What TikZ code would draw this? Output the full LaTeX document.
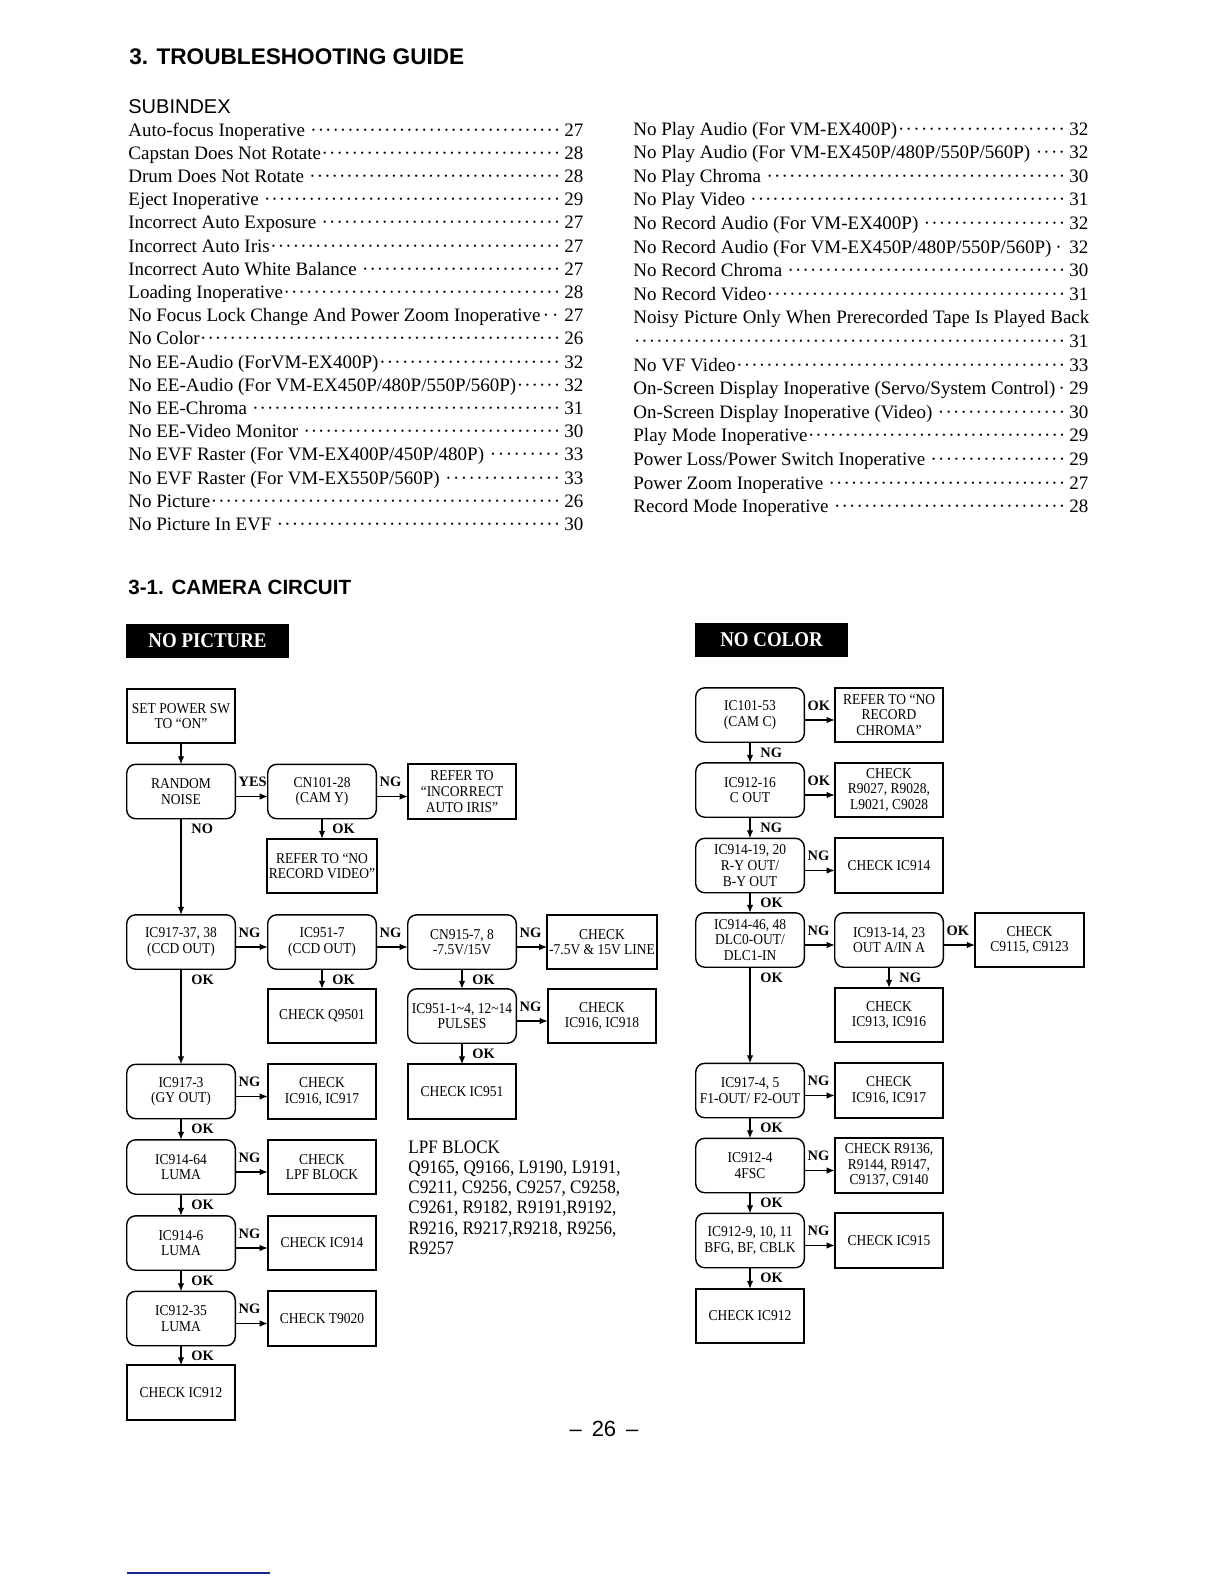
\documentclass[tikz,border=0pt]{standalone}
\usepackage{fontspec}
\setmainfont{Liberation Serif}
\setsansfont{Liberation Sans}
\newfontfamily\cnd{Liberation Serif}[FakeStretch=0.9]
\usetikzlibrary{arrows.meta,calc}
\definecolor{navyline}{RGB}{25,35,140}
\tikzset{
  box/.style={draw, line width=0.9pt, minimum width=54.3pt, minimum height=27.2pt,
    inner sep=1pt, outer sep=0pt, align=center, font=\cnd\fontsize{7.5}{7.8}\selectfont},
  rbox/.style={box, rounded corners=4.5pt, line width=0.7pt},
  arr/.style={-{Latex[length=4pt,width=3.2pt]}, line width=0.55pt},
  lbl/.style={inner sep=0pt, font=\fontsize{7.2}{8}\selectfont\bfseries},
  idxs/.style={anchor=base west, inner sep=0pt, font=\fontsize{9.5}{11}\selectfont},
  blk/.style={fill=black, text=white, minimum height=17pt, inner sep=0pt,
    font=\cnd\bfseries\fontsize{10.5}{12}\selectfont},
  ttl/.style={anchor=base west, inner sep=0pt, font=\sffamily\bfseries\fontsize{11.3}{13}\selectfont}
}
\newcommand\dotlead{\xleaders\hbox to 3.67pt{\hss·\hss}\hfill}
\newcommand\idx[5]{\node[idxs] (#1) at (#2,#3) {\hbox to 227.5pt{#4\dotlead\kern1.8pt #5}};}
\newcommand\hcon[3]{\draw[arr] ($(#1.east)+(0,5)$) -- ($(#2.west)+(0,5)$);
  \node[lbl,anchor=base west] (h-#1-#2) at ($(#1.east)+(3,-5)$) {#3};}
\newcommand\vcon[3]{\draw[arr] (#1.south) -- (#2.north);
  \node[lbl,anchor=base west] (v-#1-#2) at ($(#1.south)+(10,15)$) {#3};}
\begin{document}
\begin{tikzpicture}[x=0.5pt,y=-0.5pt]
\useasboundingbox (0,0) rectangle (1224,1584);
\fill[white] (0,0) rectangle (1224,1584);

% ---------- headings ----------
\node[ttl] (title) at (129,65) {3. TROUBLESHOOTING GUIDE};
\node[anchor=base west, inner sep=0pt, font=\sffamily\fontsize{10}{12}\selectfont] (subidx) at (128,113) {SUBINDEX};

% ---------- subindex left ----------
\idx{L0}{128}{136}{Auto-focus Inoperative }{27}
\idx{L1}{128}{159.2}{Capstan Does Not Rotate}{28}
\idx{L2}{128}{182.4}{Drum Does Not Rotate }{28}
\idx{L3}{128}{205.6}{Eject Inoperative }{29}
\idx{L4}{128}{228.8}{Incorrect Auto Exposure }{27}
\idx{L5}{128}{252}{Incorrect Auto Iris}{27}
\idx{L6}{128}{275.2}{Incorrect Auto White Balance }{27}
\idx{L7}{128}{298.4}{Loading Inoperative}{28}
\idx{L8}{128}{321.6}{No Focus Lock Change And Power Zoom Inoperative}{27}
\idx{L9}{128}{344.8}{No Color}{26}
\idx{L10}{128}{368}{No EE-Audio (ForVM-EX400P)}{32}
\idx{L11}{128}{391.2}{No EE-Audio (For VM-EX450P/480P/550P/560P)}{32}
\idx{L12}{128}{414.4}{No EE-Chroma }{31}
\idx{L13}{128}{437.6}{No EE-Video Monitor }{30}
\idx{L14}{128}{460.8}{No EVF Raster (For VM-EX400P/450P/480P) }{33}
\idx{L15}{128}{484}{No EVF Raster (For VM-EX550P/560P) }{33}
\idx{L16}{128}{507.2}{No Picture}{26}
\idx{L17}{128}{530.4}{No Picture In EVF }{30}

% ---------- subindex right ----------
\idx{R0}{633}{135}{No Play Audio (For VM-EX400P)}{32}
\idx{R1}{633}{158.6}{No Play Audio (For VM-EX450P/480P/550P/560P) }{32}
\idx{R2}{633}{182.2}{No Play Chroma }{30}
\idx{R3}{633}{205.8}{No Play Video }{31}
\idx{R4}{633}{229.4}{No Record Audio (For VM-EX400P) }{32}
\idx{R5}{633}{253}{No Record Audio (For VM-EX450P/480P/550P/560P)}{32}
\idx{R6}{633}{276.6}{No Record Chroma }{30}
\idx{R7}{633}{300.2}{No Record Video}{31}
\node[idxs] (R8) at (633,323.8) {\hbox to 228pt{Noisy Picture Only When Prerecorded Tape Is Played Back}};
\idx{R9}{633}{347.4}{}{31}
\idx{R10}{633}{371}{No VF Video}{33}
\idx{R11}{633}{394.6}{On-Screen Display Inoperative (Servo/System Control)\kern1pt}{29}
\idx{R12}{633}{418.2}{On-Screen Display Inoperative (Video) }{30}
\idx{R13}{633}{441.8}{Play Mode Inoperative}{29}
\idx{R14}{633}{465.4}{Power Loss/Power Switch Inoperative }{29}
\idx{R15}{633}{489}{Power Zoom Inoperative }{27}
\idx{R16}{633}{512.6}{Record Mode Inoperative }{28}

% ---------- section heading ----------
\node[ttl, font=\sffamily\bfseries\fontsize{10.3}{12}\selectfont] (sec) at (128,594) {3-1. CAMERA CIRCUIT};
\node[blk, minimum width=81.5pt] (nopic) at (207.5,641) {NO PICTURE};
\node[blk, minimum width=76.5pt] (nocol) at (771.5,640) {NO COLOR};

% ---------- NO PICTURE chart ----------
\node[box]  (setpw)   at (181,716)    {SET POWER SW\\TO “ON”};
\node[rbox] (rnoise)  at (181,791.5)  {RANDOM\\NOISE};
\node[rbox] (cn101)   at (322,791.5)  {CN101-28\\(CAM Y)};
\node[box]  (refiris) at (462,791.5)  {REFER TO\\“INCORRECT\\AUTO IRIS”};
\node[box]  (refnrv)  at (322,866)    {REFER TO “NO\\RECORD VIDEO”};
\node[rbox] (ic917a)  at (181,942)    {IC917-37, 38\\(CCD OUT)};
\node[rbox] (ic9517)  at (322,942)    {IC951-7\\(CCD OUT)};
\node[rbox] (cn915)   at (462,942)    {CN915-7, 8\\-7.5V/15V};
\node[box]  (chkline) at (602,942)    {CHECK\\-7.5V \& 15V LINE};
\node[box]  (chkq)    at (322,1016)   {CHECK Q9501};
\node[rbox] (ic9511)  at (462,1016)   {IC951-1\textasciitilde4, 12\textasciitilde14\\PULSES};
\node[box]  (chk9168) at (602,1016)   {CHECK\\IC916, IC918};
\node[rbox] (ic9173)  at (181,1091.5) {IC917-3\\(GY OUT)};
\node[box]  (chk9167) at (322,1091.5) {CHECK\\IC916, IC917};
\node[box]  (chk951)  at (462,1091.5) {CHECK IC951};
\node[rbox] (ic91464) at (181,1167)   {IC914-64\\LUMA};
\node[box]  (chklpf)  at (322,1167)   {CHECK\\LPF BLOCK};
\node[rbox] (ic9146)  at (181,1243)   {IC914-6\\LUMA};
\node[box]  (chk914L) at (322,1243)   {CHECK IC914};
\node[rbox] (ic91235) at (181,1318.5) {IC912-35\\LUMA};
\node[box]  (chkt)    at (322,1318.5) {CHECK T9020};
\node[box]  (chk912L) at (181,1392.5) {CHECK IC912};

\node[anchor=base west, inner sep=0pt, font=\cnd\fontsize{9.5}{10.15}\selectfont] (lpf) at (408,1153)
  {\vtop{\baselineskip=10.15pt\hbox{LPF BLOCK}\hbox{Q9165, Q9166, L9190, L9191,}\hbox{C9211, C9256, C9257, C9258,}\hbox{C9261, R9182, R9191,R9192,}\hbox{R9216, R9217,R9218, R9256,}\hbox{R9257}}};

\draw[arr] (setpw.south) -- (rnoise.north);
\vcon{rnoise}{ic917a}{NO}
\vcon{ic917a}{ic9173}{OK}
\vcon{ic9173}{ic91464}{OK}
\vcon{ic91464}{ic9146}{OK}
\vcon{ic9146}{ic91235}{OK}
\vcon{ic91235}{chk912L}{OK}
\vcon{cn101}{refnrv}{OK}
\vcon{ic9517}{chkq}{OK}
\vcon{cn915}{ic9511}{OK}
\vcon{ic9511}{chk951}{OK}
\hcon{rnoise}{cn101}{YES}
\hcon{cn101}{refiris}{NG}
\hcon{ic917a}{ic9517}{NG}
\hcon{ic9517}{cn915}{NG}
\hcon{cn915}{chkline}{NG}
\hcon{ic9511}{chk9168}{NG}
\hcon{ic9173}{chk9167}{NG}
\hcon{ic91464}{chklpf}{NG}
\hcon{ic9146}{chk914L}{NG}
\hcon{ic91235}{chkt}{NG}

% ---------- NO COLOR chart ----------
\node[rbox] (ic10153) at (750,715)    {IC101-53\\(CAM C)};
\node[box]  (refnrc)  at (889,715)    {REFER TO “NO\\RECORD\\CHROMA”};
\node[rbox] (ic91216) at (750,790)    {IC912-16\\C OUT};
\node[box]  (chkr927) at (889,790)    {CHECK\\R9027, R9028,\\L9021, C9028};
\node[rbox] (ic91419) at (750,865.5)  {IC914-19, 20\\R-Y OUT/\\B-Y OUT};
\node[box]  (chk914R) at (889,865.5)  {CHECK IC914};
\node[rbox] (ic91446) at (750,940)    {IC914-46, 48\\DLC0-OUT/\\DLC1-IN};
\node[rbox] (ic91314) at (889,940)    {IC913-14, 23\\OUT A/IN A};
\node[box, minimum width=54.6pt] (chkc911) at (1029.5,940) {CHECK\\C9115, C9123};
\node[box]  (chk9136) at (889,1015)   {CHECK\\IC913, IC916};
\node[rbox] (ic9174)  at (750,1090.5) {IC917-4, 5\\F1-OUT/ F2-OUT};
\node[box]  (chk917R) at (889,1090.5) {CHECK\\IC916, IC917};
\node[rbox] (ic9124)  at (750,1165.5) {IC912-4\\4FSC};
\node[box]  (chkr913) at (889,1165.5) {CHECK R9136,\\R9144, R9147,\\C9137, C9140};
\node[rbox] (ic9129)  at (750,1240.5) {IC912-9, 10, 11\\BFG, BF, CBLK};
\node[box]  (chk915)  at (889,1240.5) {CHECK IC915};
\node[box]  (chk912R) at (750,1316)   {CHECK IC912};

\vcon{ic10153}{ic91216}{NG}
\vcon{ic91216}{ic91419}{NG}
\vcon{ic91419}{ic91446}{OK}
\vcon{ic91446}{ic9174}{OK}
\vcon{ic91314}{chk9136}{NG}
\vcon{ic9174}{ic9124}{OK}
\vcon{ic9124}{ic9129}{OK}
\vcon{ic9129}{chk912R}{OK}
\hcon{ic10153}{refnrc}{OK}
\hcon{ic91216}{chkr927}{OK}
\hcon{ic91419}{chk914R}{NG}
\hcon{ic91446}{ic91314}{NG}
\hcon{ic91314}{chkc911}{OK}
\hcon{ic9174}{chk917R}{NG}
\hcon{ic9124}{chkr913}{NG}
\hcon{ic9129}{chk915}{NG}

% ---------- footer ----------
\node[anchor=base, inner sep=0pt, font=\sffamily\fontsize{11}{12}\selectfont] (pg) at (604,1436) {–\hspace{5pt}26\hspace{5pt}–};
\draw[navyline, line width=0.8pt] (127,1573) -- (270,1573);
\end{tikzpicture}
\end{document}
